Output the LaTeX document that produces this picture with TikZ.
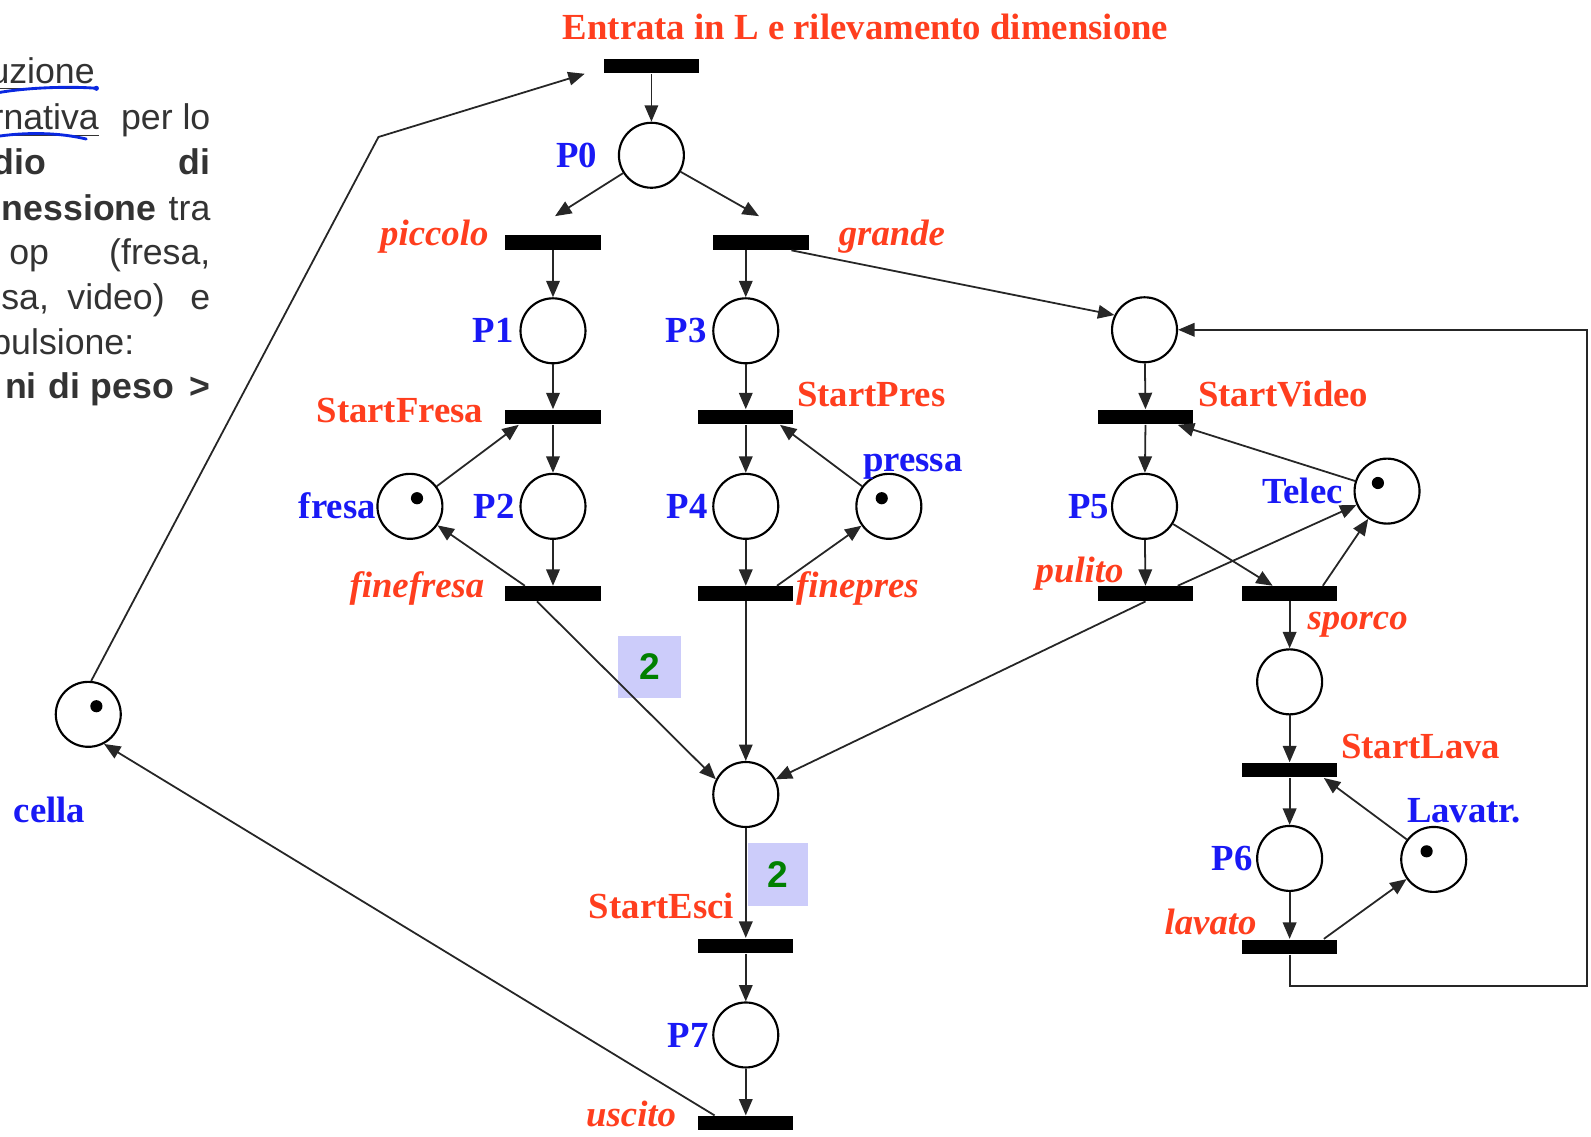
\documentclass[tikz,border=0pt]{standalone}
\usepackage{fontspec}
\setmainfont{Liberation Serif}
\newfontfamily\arialfont{Liberation Sans}
\usetikzlibrary{arrows.meta}

\definecolor{labred}{RGB}{255,62,30}
\definecolor{labblue}{RGB}{25,25,245}
\definecolor{wgreen}{RGB}{0,128,0}
\definecolor{wlav}{RGB}{204,204,250}
\definecolor{penblue}{RGB}{10,40,225}

\newcommand{\labsize}{\fontsize{10.3}{12}\selectfont}
\newcommand{\wsize}{\fontsize{10.4}{12}\selectfont}
\newcommand{\txtsize}{\fontsize{10}{12}\selectfont}

\tikzset{
  placenode/.style={circle, draw, line width=0.6pt, minimum size=0.64cm, inner sep=0pt},
  transbar/.style={rectangle, fill=black, minimum width=0.94cm, minimum height=0.14cm, inner sep=0pt},
  flow/.style={-{Triangle[length=4.6pt,width=3.8pt]}, line width=0.5pt, draw=black!85},
  tlab/.style={text=labred, font=\bfseries\labsize, inner sep=0pt},
  tlabi/.style={text=labred, font=\bfseries\itshape\labsize, inner sep=0pt},
  plab/.style={text=labblue, font=\bfseries\labsize, inner sep=0pt},
  wbox/.style={fill=wlav, text=wgreen, font={\arialfont\bfseries\wsize}, inner sep=0pt},
  slide/.style={text=black!80, font={\arialfont\txtsize}, inner sep=0pt, anchor=base east}
}

\begin{document}
\begin{tikzpicture}[x=0.01cm, y=-0.01cm]
\useasboundingbox (0,0) rectangle (1568,1120);

% slide text cut at the left edge
\node[slide] (s1) at (94,82) {\underline{uzione}};
\node[slide] (s2a) at (98,128) {\underline{rnativa}};
\node[slide] (s2b) at (208,128) {per lo};
\node[slide, font={\arialfont\bfseries\txtsize}] (s3a) at (46,172) {dio};
\node[slide, font={\arialfont\bfseries\txtsize}] (s3b) at (208,172) {di};
\node[slide, font={\arialfont\bfseries\txtsize}] (s4a) at (155,217) {nessione};
\node[slide] (s4b) at (208,217) {tra};
\node[slide] (s5a) at (49,261) {op};
\node[slide] (s5b) at (208,261) {(fresa,};
\node[slide] (s6a) at (49,305) {ssa,};
\node[slide] (s6b) at (163,305) {video)};
\node[slide] (s6c) at (208,305) {e};
\node[slide] (s7) at (133,349) {pulsione:};
\node[slide, font={\arialfont\bfseries\txtsize}] (s8a) at (37,393) {ni};
\node[slide, font={\arialfont\bfseries\txtsize}] (s8b) at (80,393) {di};
\node[slide, font={\arialfont\bfseries\txtsize}] (s8c) at (172,393) {peso};
\node[slide, font={\arialfont\bfseries\txtsize}] (s8d) at (208,393) {>};
\draw[penblue, line width=0.8pt, line cap=round] (0,91) .. controls (30,86) and (70,85) .. (95,87);
\fill[penblue] (95,87) circle (0.025cm);
\draw[penblue, line width=0.8pt, line cap=round] (0,134) .. controls (30,130) and (60,131) .. (85,137);

% transitions
\node[transbar] (t0) at (642,65) {};
\node[transbar] (tpic) at (545,239) {};
\node[transbar] (tgr) at (750,239) {};
\node[transbar] (tsf) at (545,411) {};
\node[transbar] (tsp) at (735,411) {};
\node[transbar] (tsv) at (1129,411) {};
\node[transbar] (tff) at (545,585) {};
\node[transbar] (tfp) at (735,585) {};
\node[transbar] (tpu) at (1129,585) {};
\node[transbar] (tsk) at (1271,585) {};
\node[transbar] (tsl) at (1271,759) {};
\node[transbar] (tlv) at (1271,933) {};
\node[transbar] (tes) at (735,932) {};
\node[transbar] (tus) at (735,1107) {};

% places
\node[placenode] (P0) at (642,153) {};
\node[placenode] (P1) at (545,326) {};
\node[placenode] (P3) at (735,326) {};
\node[placenode] (PV) at (1128,325) {};
\node[placenode] (P2) at (545,499) {};
\node[placenode] (P4) at (735,499) {};
\node[placenode] (fresa) at (404,499) {};
\node[placenode] (pressa) at (876,499) {};
\node[placenode] (P5) at (1128,499) {};
\node[placenode] (Telec) at (1367,484) {};
\node[placenode] (Pw) at (1271,672) {};
\node[placenode] (M) at (735,783) {};
\node[placenode] (P6) at (1271,846) {};
\node[placenode] (Lavatr) at (1413,847) {};
\node[placenode] (P7) at (735,1020) {};
\node[placenode] (cella) at (87,704) {};

% tokens
\fill ([shift={(7,-8)}]fresa.center) circle (0.06cm);
\fill ([shift={(-7,-8)}]pressa.center) circle (0.06cm);
\fill ([shift={(-9,-8)}]Telec.center) circle (0.06cm);
\fill ([shift={(-7,-8)}]Lavatr.center) circle (0.06cm);
\fill ([shift={(8,-8)}]cella.center) circle (0.06cm);

% arc weights
\node[wbox, minimum width=0.62cm, minimum height=0.61cm] (w1) at (640,657) {2};
\node[wbox, minimum width=0.59cm, minimum height=0.62cm] (w2) at (767,862) {2};

\coordinate (pic-in) at (547,213);
\coordinate (gr-in) at (748,213);
\coordinate (bend) at (373,135);
\coordinate (loopA) at (1564,972);

% arcs
\draw[flow] (t0) -- (P0);
\draw[flow] (P0) -- (pic-in);
\draw[flow] (P0) -- (gr-in);
\draw[flow] (tpic) -- (P1);
\draw[flow] (tgr.south -| P3) -- (P3);
\draw[flow] ([xshift=0.3cm]tgr.south) -- (PV.154);
\draw[flow] (P1) -- (tsf);
\draw[flow] (P3) -- (tsp);
\draw[flow] (PV) -- (tsv);
\draw[flow] (tsf) -- (P2);
\draw[flow] (tsp) -- (P4);
\draw[flow] (tsv) -- (P5);
\draw[flow] (fresa) -- ([xshift=0.14cm]tsf.south west);
\draw[flow] (pressa) -- ([xshift=-0.14cm]tsp.south east);
\draw[flow] (Telec) -- ([xshift=-0.16cm]tsv.south east);
\draw[flow] (P2) -- (tff);
\draw[flow] (P4) -- (tfp);
\draw[flow] (P5) -- (tpu);
\draw[flow] (P5) -- ([xshift=0.31cm]tsk.north west);
\draw[flow] ([xshift=0.2cm]tff.north west) -- (fresa);
\draw[flow] ([xshift=-0.17cm]tfp.north east) -- (pressa);
\draw[flow] ([xshift=-0.16cm]tpu.north east) -- (Telec);
\draw[flow] ([xshift=-0.15cm]tsk.north east) -- (Telec);
\draw[flow] ([xshift=0.32cm]tff.south west) -- (M.153);
\draw[flow] (tfp) -- (M);
\draw[flow] (tpu.south) -- (M.27);
\draw[flow] (tsk) -- (Pw);
\draw[flow] (Pw) -- (tsl);
\draw[flow] (tsl) -- (P6);
\draw[flow] (P6) -- (tlv);
\draw[flow] (Lavatr) -- ([xshift=-0.14cm]tsl.south east);
\draw[flow] ([xshift=-0.14cm]tlv.north east) -- (Lavatr);
\draw[flow] (tlv.south) |- (loopA) |- (PV);
\draw[flow] (M) -- (tes);
\draw[flow] (tes) -- (P7);
\draw[flow] (P7) -- (tus);
\draw[flow] ([xshift=0.17cm]tus.north west) -- (cella.-62);
\draw[flow] (cella.85) -- (bend) -- ([xshift=-0.18cm]t0.south west);

% labels
\node[tlab, anchor=base] (ltitle) at (853,39) {Entrata in L e rilevamento dimensione};
\node[plab, anchor=base east] (lP0) at (589,165) {P0};
\node[tlabi, anchor=base east] (lpic) at (482,242) {piccolo};
\node[tlabi, anchor=base west] (lgr) at (826,242) {grande};
\node[plab, anchor=base east] (lP1) at (507,338) {P1};
\node[plab, anchor=base east] (lP3) at (697,338) {P3};
\node[tlab, anchor=base east] (lsf) at (477,416) {StartFresa};
\node[tlab, anchor=base west] (lsp) at (785,401) {StartPres};
\node[tlab, anchor=base west] (lsv) at (1180,401) {StartVideo};
\node[plab, anchor=base east] (lfresa) at (371,511) {fresa};
\node[plab, anchor=base east] (lP2) at (508,511) {P2};
\node[plab, anchor=base east] (lP4) at (698,511) {P4};
\node[plab, anchor=base west] (lpressa) at (850,465) {pressa};
\node[plab, anchor=base east] (lP5) at (1094,511) {P5};
\node[plab, anchor=base east] (lTelec) at (1324,496) {Telec};
\node[tlabi, anchor=base east] (lff) at (478,589) {finefresa};
\node[tlabi, anchor=base west] (lfp) at (784,589) {finepres};
\node[tlabi, anchor=base east] (lpu) at (1108,574) {pulito};
\node[tlabi, anchor=base west] (lsk) at (1288,620) {sporco};
\node[tlab, anchor=base west] (lsl) at (1321,748) {StartLava};
\node[plab, anchor=base west] (llav) at (1386,811) {Lavatr.};
\node[plab, anchor=base east] (lP6) at (1235,858) {P6};
\node[tlabi, anchor=base east] (llv) at (1239,921) {lavato};
\node[plab, anchor=base west] (lcella) at (13,811) {cella};
\node[tlab, anchor=base east] (les) at (724,905) {StartEsci};
\node[plab, anchor=base east] (lP7) at (699,1032) {P7};
\node[tlabi, anchor=base east] (lus) at (667,1110) {uscito};
\end{tikzpicture}
\end{document}
